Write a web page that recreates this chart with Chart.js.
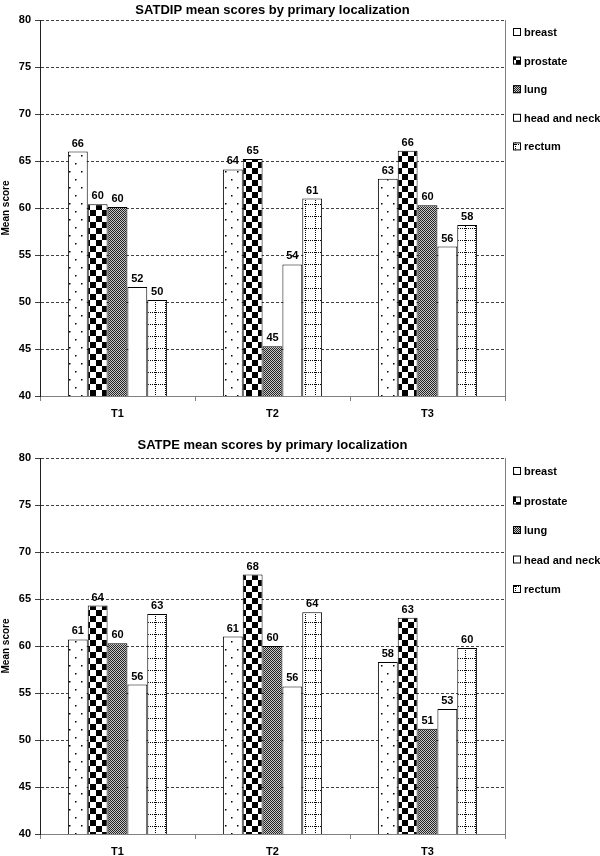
<!DOCTYPE html>
<html lang="en">
<head>
  <meta charset="UTF-8" />
  <title>SATDIP / SATPE mean scores</title>
  <script src="https://cdn.jsdelivr.net/npm/chart.js"></script>
  <style>
    body {
      margin: 0;
      padding: 0;
      background: #ffffff;
    }
    .chart-box {
      position: relative;
      width: 600px;
    }
    canvas {
      display: block;
    }
  </style>
</head>
<body>

  <div class="chart-box"><canvas id="dipChart" width="600" height="430"></canvas></div>
  <div class="chart-box"><canvas id="peChart" width="600" height="426"></canvas></div>

  <script>
    const times = ['T1', 'T2', 'T3'];
    const localizations = ['breast', 'prostate', 'lung', 'head and neck', 'rectum'];
    const yTicks = [40, 45, 50, 55, 60, 65, 70, 75, 80];

    // SATDIP mean scores, one value per time point
    const breastDip = [66.0, 64.1, 63.1];
    const prostateDip = [60.4, 65.2, 66.1];
    const lungDip = [60.1, 45.3, 60.3];
    const headNeckDip = [51.6, 54.0, 55.9];
    const rectumDip = [50.2, 61.0, 58.2];

    // SATPE mean scores
    const breastPe = [60.7, 61.0, 58.3];
    const prostatePe = [64.3, 67.6, 63.0];
    const lungPe = [60.3, 60.0, 51.2];
    const headNeckPe = [55.9, 55.7, 53.3];
    const rectumPe = [63.4, 63.6, 59.8];

    const FONT = "'Liberation Sans', Arial, sans-serif";

    // small tiles used as bar fills
    function makePattern(w, h, draw) {
      const c = document.createElement('canvas');
      c.width = w;
      c.height = h;
      const x = c.getContext('2d');
      x.fillStyle = '#ffffff';
      x.fillRect(0, 0, w, h);
      x.fillStyle = '#000000';
      draw(x);
      return x.createPattern(c, 'repeat');
    }

    const dotted = makePattern(12, 16, x => {
      x.fillRect(3, 3, 1.5, 1.5);
      x.fillRect(9, 11, 1.5, 1.5);
    });
    const checker = makePattern(12, 12, x => {
      x.fillRect(0, 0, 6, 6);
      x.fillRect(6, 6, 6, 6);
    });
    const hatch = makePattern(2, 2, x => {
      x.fillStyle = '#c8c8c8';
      x.fillRect(0, 0, 2, 2);
      x.fillStyle = '#222222';
      x.fillRect(0, 0, 1, 1);
      x.fillRect(1, 1, 1, 1);
    });
    const plain = '#ffffff';
    const gridDots = makePattern(10, 12, x => {
      for (let i = 0; i < 10; i += 2) x.fillRect(i, 0, 1, 1);
      for (let j = 0; j < 12; j += 2) x.fillRect(5, j, 1, 1);
    });
    const fills = [dotted, checker, hatch, plain, gridDots];

    const seriesDip = [breastDip, prostateDip, lungDip, headNeckDip, rectumDip];
    const seriesPe = [breastPe, prostatePe, lungPe, headNeckPe, rectumPe];

    // value labels, right border, title and legend
    const decorPlugin = {
      id: 'decor',
      afterDatasetsDraw(chart, args, opts) {
        const ctx = chart.ctx;
        const area = chart.chartArea;
        ctx.save();
        ctx.font = 'bold 11px ' + FONT;
        ctx.fillStyle = '#000';
        ctx.textAlign = 'center';
        ctx.textBaseline = 'alphabetic';
        chart.data.datasets.forEach((ds, i) => {
          chart.getDatasetMeta(i).data.forEach((bar, j) => {
            ctx.fillText(Math.round(ds.data[j]), bar.x, bar.y - 5);
          });
        });

        // right frame line
        ctx.strokeStyle = '#808080';
        ctx.lineWidth = 1;
        ctx.beginPath();
        ctx.moveTo(area.right + 0.5, area.top);
        ctx.lineTo(area.right + 0.5, area.bottom);
        ctx.stroke();

        // title
        ctx.font = 'bold 13px ' + FONT;
        ctx.textBaseline = 'middle';
        ctx.fillText(opts.title, (area.left + area.right) / 2, opts.titleY);

        // legend
        ctx.font = 'bold 11px ' + FONT;
        ctx.textAlign = 'left';
        chart.data.datasets.forEach((ds, i) => {
          const y = opts.legendY + i * opts.legendGap;
          ctx.fillStyle = ds.backgroundColor;
          ctx.fillRect(513, y - 4, 8, 8);
          ctx.strokeStyle = '#000';
          ctx.strokeRect(513.5, y - 3.5, 7, 7);
          ctx.fillStyle = '#000';
          ctx.fillText(ds.label, 524, y + 1);
        });
        ctx.restore();
      }
    };

    function buildChart(id, series, title, titleY, padTop, axisHeight, tickPad, legendY, legendGap) {
      return new Chart(document.getElementById(id), {
        type: 'bar',
        data: {
          labels: times,
          datasets: localizations.map((name, i) => ({
            label: name,
            data: series[i],
            backgroundColor: fills[i],
            borderColor: '#000000',
            borderWidth: 1,
            borderSkipped: 'bottom',
            barPercentage: 1,
            categoryPercentage: 0.64
          }))
        },
        options: {
          responsive: false,
          animation: false,
          layout: { padding: { top: padTop, right: 95, left: 0, bottom: 0 } },
          plugins: {
            legend: { display: false },
            tooltip: { enabled: false },
            decor: { title: title, titleY: titleY, legendY: legendY, legendGap: legendGap }
          },
          scales: {
            x: {
              grid: {
                display: true,
                drawOnChartArea: false,
                drawTicks: true,
                tickLength: 5,
                color: '#808080'
              },
              border: { display: true, color: '#808080', width: 1 },
              ticks: {
                color: '#000',
                padding: tickPad,
                font: { family: FONT, size: 11, weight: 'bold' }
              },
              afterFit: s => { s.height = axisHeight; }
            },
            y: {
              min: 40,
              max: 80,
              afterBuildTicks: s => { s.ticks = yTicks.map(v => ({ value: v })); },
              grid: {
                color: '#404040',
                lineWidth: 1,
                tickLength: 5,
                tickBorderDash: [],
                tickColor: '#404040'
              },
              border: { display: true, color: '#202020', width: 1, dash: [3, 2] },
              ticks: {
                color: '#000',
                padding: 4,
                font: { family: FONT, size: 11, weight: 'bold' }
              },
              title: {
                display: true,
                text: 'Mean score',
                color: '#000',
                padding: 0,
                font: { family: FONT, size: 10, weight: 'bold' }
              },
              afterFit: s => { s.width = 40; }
            }
          }
        },
        plugins: [decorPlugin]
      });
    }

    buildChart('dipChart', seriesDip, 'SATDIP mean scores by primary localization', 10, 20, 34, 6, 32, 28.6);
    buildChart('peChart', seriesPe, 'SATPE mean scores by primary localization', 15, 28, 22, 6, 41, 29.5);
  </script>
</body>
</html>
